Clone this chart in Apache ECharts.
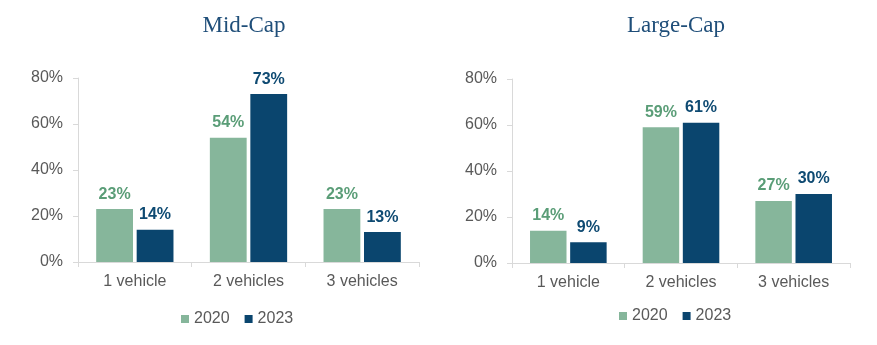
<!DOCTYPE html>
<html>
<head>
<meta charset="utf-8">
<script src="https://cdn.jsdelivr.net/npm/echarts@6/dist/echarts.min.js"></script>
<style>
  html, body { margin: 0; padding: 0; background: #fff; }
  #chart { width: 877px; height: 345px; }
</style>
</head>
<body>
<div id="chart"></div>
<script>
// Share of companies by number of vehicles, two market-cap groups
const categories = ['1 vehicle', '2 vehicles', '3 vehicles'];
const years = ['2020', '2023'];
const midCap2020 = [23, 54, 23];
const midCap2023 = [14, 73, 13];
const largeCap2020 = [14, 59, 27];
const largeCap2023 = [9, 61, 30];
const panelTitles = ['Mid-Cap', 'Large-Cap'];
const yTicks = [0, 20, 40, 60, 80];

const GREEN = '#86b69b';
const GREEN_TEXT = '#5a9d77';
const BLUE = '#0a456e';
const BLUE_TEXT = '#0e4a72';
const SANS = '"Liberation Sans", Arial, sans-serif';

const grids = [
  { left: 78, right: 458, top: 78, bottom: 83 },
  { left: 512, right: 27, top: 79, bottom: 82 }
];

function xAxisFor(i) {
  return {
    type: 'category', gridIndex: i, data: categories,
    axisLine: { lineStyle: { color: '#d9d9d9', width: 1 } },
    axisTick: { show: true, length: 5, lineStyle: { color: '#d9d9d9' } },
    axisLabel: { color: '#595959', fontFamily: SANS, fontSize: 16, margin: 12 }
  };
}
function yAxisFor(i) {
  return {
    type: 'value', gridIndex: i, min: yTicks[0], max: yTicks[yTicks.length - 1], interval: 20,
    axisLine: { show: true, lineStyle: { color: '#d9d9d9', width: 1 } },
    axisTick: { show: true, length: 5, lineStyle: { color: '#d9d9d9' } },
    splitLine: { show: false },
    axisLabel: { color: '#595959', fontFamily: SANS, fontSize: 16, margin: 15, formatter: '{value}%' }
  };
}
function barSeries(name, data, color, textColor, i) {
  return {
    name: name, type: 'bar', xAxisIndex: i, yAxisIndex: i, data: data,
    barCategoryGap: '32%', barGap: '10%',
    itemStyle: { color: color },
    label: {
      show: true, position: 'top', distance: 7, formatter: '{c}%',
      color: textColor, fontFamily: SANS, fontSize: 16, fontWeight: 'bold'
    }
  };
}

const titleStyle = { fontFamily: '"Liberation Serif", serif', fontSize: 23, fontWeight: 'normal', color: '#1f4e79' };
const legendText = { color: '#595959', fontFamily: SANS, fontSize: 16 };

const chart = echarts.init(document.getElementById('chart'), null, { renderer: 'canvas' });
chart.setOption({
  animation: false,
  backgroundColor: '#ffffff',
  title: [
    { text: panelTitles[0], left: 239, top: 9, textAlign: 'center', textStyle: titleStyle },
    { text: panelTitles[1], left: 671, top: 9, textAlign: 'center', textStyle: titleStyle }
  ],
  legend: [
    { data: years, left: 176, top: 306, itemWidth: 8, itemHeight: 8, itemGap: 15, icon: 'rect', textStyle: legendText },
    { data: years, left: 614, top: 303, itemWidth: 8, itemHeight: 8, itemGap: 15, icon: 'rect', textStyle: legendText }
  ],
  grid: grids,
  xAxis: [xAxisFor(0), xAxisFor(1)],
  yAxis: [yAxisFor(0), yAxisFor(1)],
  series: [
    barSeries(years[0], midCap2020, GREEN, GREEN_TEXT, 0),
    barSeries(years[1], midCap2023, BLUE, BLUE_TEXT, 0),
    barSeries(years[0], largeCap2020, GREEN, GREEN_TEXT, 1),
    barSeries(years[1], largeCap2023, BLUE, BLUE_TEXT, 1)
  ]
});
</script>
</body>
</html>
